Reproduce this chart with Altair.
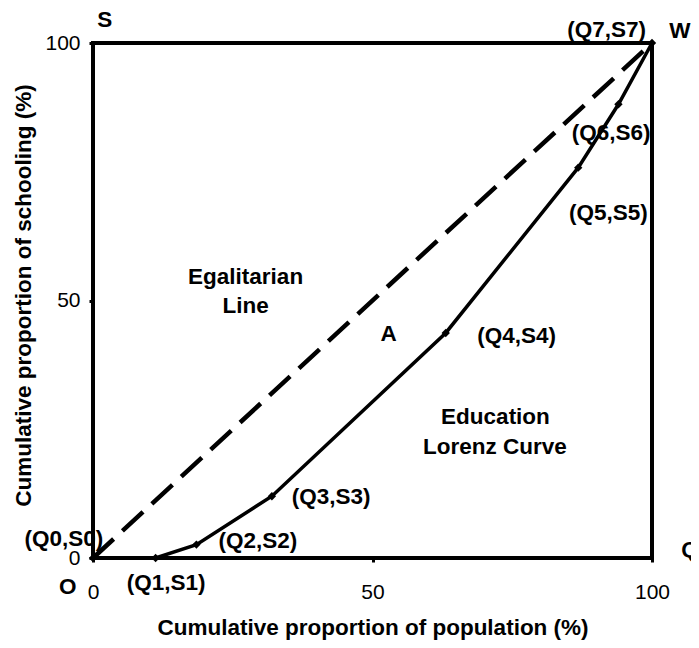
import altair as alt
import pandas as pd

# Education Lorenz curve points (Q = cumulative population %, S = cumulative schooling %)
lorenz_q = [0, 11.2, 18.5, 32.0, 63.1, 86.8, 94.0, 100]
lorenz_s = [0, 0, 2.6, 12.0, 43.7, 75.8, 88.1, 100]

# Egalitarian line
egal_q = [0, 100]
egal_s = [0, 100]

# Annotation labels (positions in data units)
label_text = ["S", "W", "Q", "O", "(Q0,S0)", "(Q1,S1)", "(Q2,S2)", "(Q3,S3)",
              "(Q4,S4)", "(Q5,S5)", "(Q6,S6)", "(Q7,S7)", "A",
              "Egalitarian", "Line", "Education", "Lorenz Curve"]
label_x = [2.1, 105.0, 106.8, -4.5, -5.2, 13.1, 29.5, 42.6,
           75.8, 92.2, 92.7, 91.9, 52.9, 27.3, 27.3, 72.0, 71.9]
label_y = [104.5, 102.4, 1.5, -5.7, 3.6, -4.9, 3.3, 11.9,
           43.2, 66.9, 82.5, 102.6, 43.5, 54.6, 48.9, 27.4, 21.6]

tick_values = [0, 50, 100]

FONT = "Liberation Sans"

lorenz_df = pd.DataFrame({"q": lorenz_q, "s": lorenz_s})
egal_df = pd.DataFrame({"q": egal_q, "s": egal_s})
labels_df = pd.DataFrame({"t": label_text, "q": label_x, "s": label_y})

xscale = alt.Scale(domain=[0, 100], nice=False, zero=False)
yscale = alt.Scale(domain=[0, 100], nice=False, zero=False)

xaxis = alt.Axis(values=tick_values, title="Cumulative proportion of population (%)",
                 grid=False, domain=False, tickSize=4, tickWidth=3, tickColor="black",
                 labelFlush=False, labelOverlap=False,
                 labelPadding=19, labelFontSize=21, labelFont=FONT, labelColor="black",
                 titleFont=FONT, titleFontSize=22.5, titleFontWeight="bold", titleColor="black",
                 titleX=279.5, titleY=76, titleBaseline="alphabetic", titleAlign="center",
                 format="d")
yaxis = alt.Axis(values=tick_values, title="Cumulative proportion of schooling (%)",
                 grid=False, domain=False, tickSize=4, tickWidth=3, tickColor="black",
                 labelFlush=False, labelOverlap=False,
                 labelPadding=9, labelFontSize=21, labelFont=FONT, labelColor="black",
                 titleFont=FONT, titleFontSize=22.5, titleFontWeight="bold", titleColor="black",
                 titleX=-70, titleY=252, titleAngle=-90, titleBaseline="middle",
                 titleAlign="center", format="d")

egal = alt.Chart(egal_df).mark_line(color="black", strokeWidth=4.5, strokeDash=[28, 12]).encode(
    x=alt.X("q:Q", scale=xscale, axis=xaxis),
    y=alt.Y("s:Q", scale=yscale, axis=yaxis),
)

lorenz = alt.Chart(lorenz_df).mark_line(color="black", strokeWidth=3.5).encode(
    x=alt.X("q:Q", scale=xscale),
    y=alt.Y("s:Q", scale=yscale),
)

pts = alt.Chart(lorenz_df).mark_point(shape="diamond", filled=True, color="black", size=70, opacity=1).encode(
    x=alt.X("q:Q", scale=xscale),
    y=alt.Y("s:Q", scale=yscale),
)

labels = alt.Chart(labels_df).mark_text(font=FONT, fontSize=22.5, fontWeight="bold",
                                        color="black", align="center", baseline="middle").encode(
    x=alt.X("q:Q", scale=xscale),
    y=alt.Y("s:Q", scale=yscale),
    text="t:N",
)

chart = alt.layer(egal, lorenz, pts, labels).properties(
    width=559, height=515,
    background="white",
    autosize=alt.AutoSizeParams(type="none"),
    padding={"left": 85, "top": 35, "right": 39, "bottom": 82},
).configure_view(stroke="black", strokeWidth=4)

chart.save("out.html", embed_options={"renderer": "svg", "actions": False})
